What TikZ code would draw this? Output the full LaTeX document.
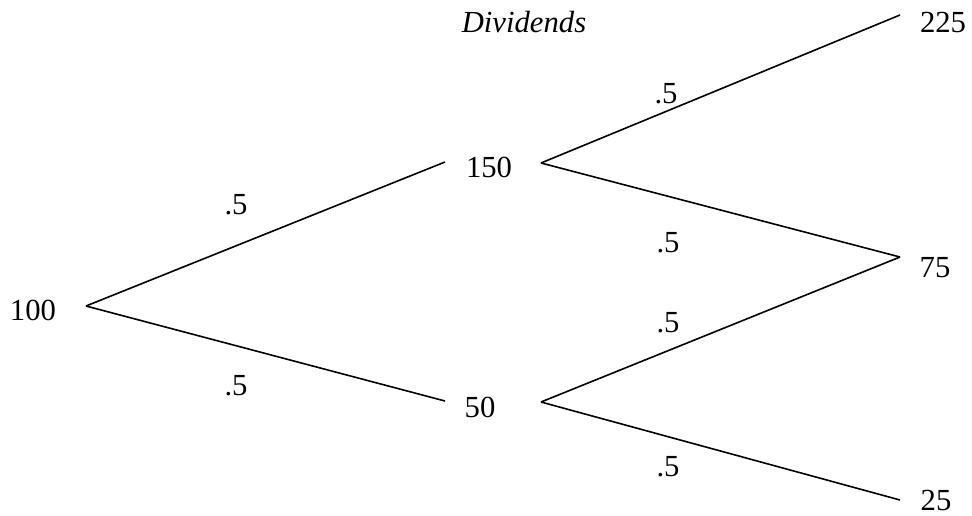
\documentclass[tikz,border=0pt]{standalone}
\usepackage{fontspec}
\setmainfont{Liberation Serif}
\usetikzlibrary{positioning}

\begin{document}
\begin{tikzpicture}[
  x=0.75pt, y=-0.75pt,
  val/.style={inner sep=0pt, font=\fontsize{23}{27}\selectfont},
  prob/.style={val},
  branch/.style={line width=1.2pt},
]
  \useasboundingbox (0,0) rectangle (972,515);

  % Vertices
  \coordinate (r0) at (86,306);
  \coordinate (u1) at (445,162);
  \coordinate (u1r) at (541,163);
  \coordinate (d1) at (445,401);
  \coordinate (d1r) at (541,402);
  \coordinate (uu) at (900,15);
  \coordinate (ud) at (900,257);
  \coordinate (dd) at (900,500);

  % Nodes
  \node[val] (n100) at (33,310) {100};
  \node[val] (n150) at (489,167) {150};
  \node[val] (n50) at (480,407) {50};
  \node[val] (n225) at (943,22) {225};
  \node[val] (n75) at (935,268) {75};
  \node[val] (n25) at (936,500) {25};
  \node[val, font=\fontsize{23}{27}\selectfont\itshape] (title) at (524,22) {Dividends};

  % Branches
  \draw[branch] (r0) -- (u1);
  \draw[branch] (r0) -- (d1);
  \draw[branch] (u1r) -- (uu);
  \draw[branch] (u1r) -- (ud);
  \draw[branch] (d1r) -- (ud);
  \draw[branch] (d1r) -- (dd);

  % Probabilities
  \node[prob] (p1) at (236,205) {.5};
  \node[prob] (p2) at (236,386) {.5};
  \node[prob] (p3) at (666,94) {.5};
  \node[prob] (p4) at (668,243) {.5};
  \node[prob] (p5) at (668,323) {.5};
  \node[prob] (p6) at (668,467) {.5};
\end{tikzpicture}
\end{document}
